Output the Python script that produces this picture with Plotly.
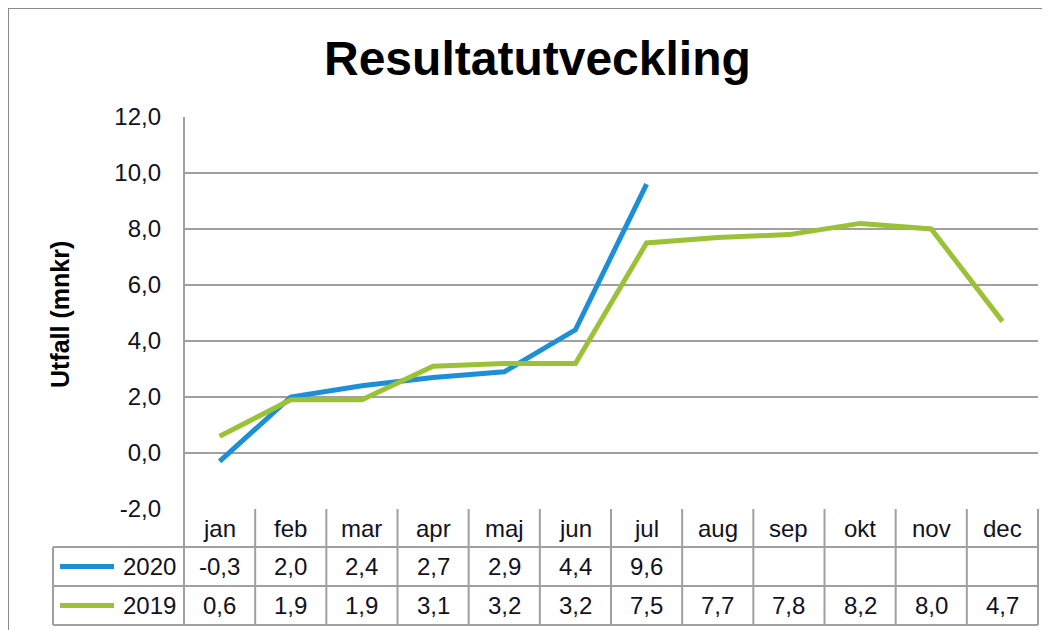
import plotly.graph_objects as go

months = ["jan", "feb", "mar", "apr", "maj", "jun", "jul", "aug", "sep", "okt", "nov", "dec"]
values_2020 = [-0.3, 2.0, 2.4, 2.7, 2.9, 4.4, 9.6]
values_2019 = [0.6, 1.9, 1.9, 3.1, 3.2, 3.2, 7.5, 7.7, 7.8, 8.2, 8.0, 4.7]
y_ticks = [-2, 0, 2, 4, 6, 8, 10, 12]
series_names = ["2020", "2019"]
title_text = "Resultatutveckling"
y_title = "Utfall (mnkr)"

BLUE = "#1c8fd6"
GREEN = "#9bc237"
GRID = "#a0a0a0"
FONT = "Liberation Sans, Arial, sans-serif"
TXT = "#111122"

# page offset (browser body margin)
OFF = 8
W, H = 1050 - OFF, 630 - OFF
L, T = 184 - OFF, 117 - OFF
PW, PH = 854, 392
R = W - L - PW
B = H - T - PH


def px(x):
    """screen x -> paper x"""
    return (x - OFF - L) / PW


def py(y):
    """screen y -> paper y"""
    return (T + PH - (y - OFF)) / PH


def fmt(v):
    return f"{v:.1f}".replace(".", ",")


fig = go.Figure()
x_idx = list(range(len(months)))
fig.add_trace(go.Scatter(x=x_idx[:len(values_2020)], y=values_2020, mode="lines",
                         line=dict(color=BLUE, width=5), name=series_names[0], showlegend=False))
fig.add_trace(go.Scatter(x=x_idx[:len(values_2019)], y=values_2019, mode="lines",
                         line=dict(color=GREEN, width=5), name=series_names[1], showlegend=False))

shapes = []
line_style = dict(color=GRID, width=2)
# outer border (right/bottom edges fall outside the view)
shapes.append(dict(type="rect", xref="paper", yref="paper", x0=px(8), x1=px(1062), y0=py(8), y1=py(645),
                   line=dict(color="#8a8a8a", width=2), layer="below"))
# left axis line through table
shapes.append(dict(type="line", xref="paper", yref="paper", x0=0, x1=0, y0=1, y1=py(625), line=line_style))
# column separators in table
for k in range(1, len(months) + 1):
    shapes.append(dict(type="line", xref="paper", yref="paper", x0=k / len(months), x1=k / len(months),
                       y0=0, y1=py(625), line=line_style))
# legend column left edge
shapes.append(dict(type="line", xref="paper", yref="paper", x0=px(53), x1=px(53), y0=py(547), y1=py(625),
                   line=line_style))
# horizontal table lines
for yy in [547, 586, 625]:
    shapes.append(dict(type="line", xref="paper", yref="paper", x0=px(53), x1=1, y0=py(yy), y1=py(yy),
                       line=line_style))
# legend keys
for yy, c in [(566.5, BLUE), (605.5, GREEN)]:
    shapes.append(dict(type="line", xref="paper", yref="paper", x0=px(60), x1=px(114), y0=py(yy), y1=py(yy),
                       line=dict(color=c, width=5)))

ann = []
ann.append(dict(text=f"<b>{title_text}</b>", x=px(537), y=py(58), xref="paper", yref="paper",
                showarrow=False, font=dict(size=48, color="#000000", family=FONT), xanchor="center",
                yanchor="middle"))
ann.append(dict(text=f"<b>{y_title}</b>", x=px(60), y=py(315), xref="paper", yref="paper", textangle=-90,
                showarrow=False, font=dict(size=25, color="#000000", family=FONT), xanchor="center",
                yanchor="middle"))
for i, m in enumerate(months):
    ann.append(dict(text=m, x=i, y=py(528), xref="x", yref="paper", showarrow=False,
                    font=dict(size=24, color=TXT, family=FONT), xanchor="center", yanchor="middle"))
for i, v in enumerate(values_2020):
    ann.append(dict(text=fmt(v), x=i, y=py(566.5), xref="x", yref="paper", showarrow=False,
                    font=dict(size=24, color=TXT, family=FONT), xanchor="center", yanchor="middle"))
for i, v in enumerate(values_2019):
    ann.append(dict(text=fmt(v), x=i, y=py(605.5), xref="x", yref="paper", showarrow=False,
                    font=dict(size=24, color=TXT, family=FONT), xanchor="center", yanchor="middle"))
for name, yy in zip(series_names, [566.5, 605.5]):
    ann.append(dict(text=name, x=px(178), y=py(yy), xref="paper", yref="paper", showarrow=False,
                    font=dict(size=24, color=TXT, family=FONT), xanchor="right", yanchor="middle"))

fig.update_layout(
    width=W, height=H,
    margin=dict(l=L, r=R, t=T, b=B),
    paper_bgcolor="white", plot_bgcolor="white",
    shapes=shapes, annotations=ann,
    font=dict(family=FONT, color=TXT),
)
fig.update_xaxes(range=[-0.5, len(months) - 0.5], showgrid=False, zeroline=False, showticklabels=False,
                 showline=False, ticks="")
fig.update_yaxes(range=[-2, 12], tickvals=y_ticks, ticktext=[fmt(v) for v in y_ticks], showgrid=True,
                 gridcolor=GRID, gridwidth=2, zeroline=False, showline=False, ticks="", ticklabelstandoff=22,
                 tickfont=dict(size=24, color=TXT, family=FONT))

fig.write_html("out.html")
